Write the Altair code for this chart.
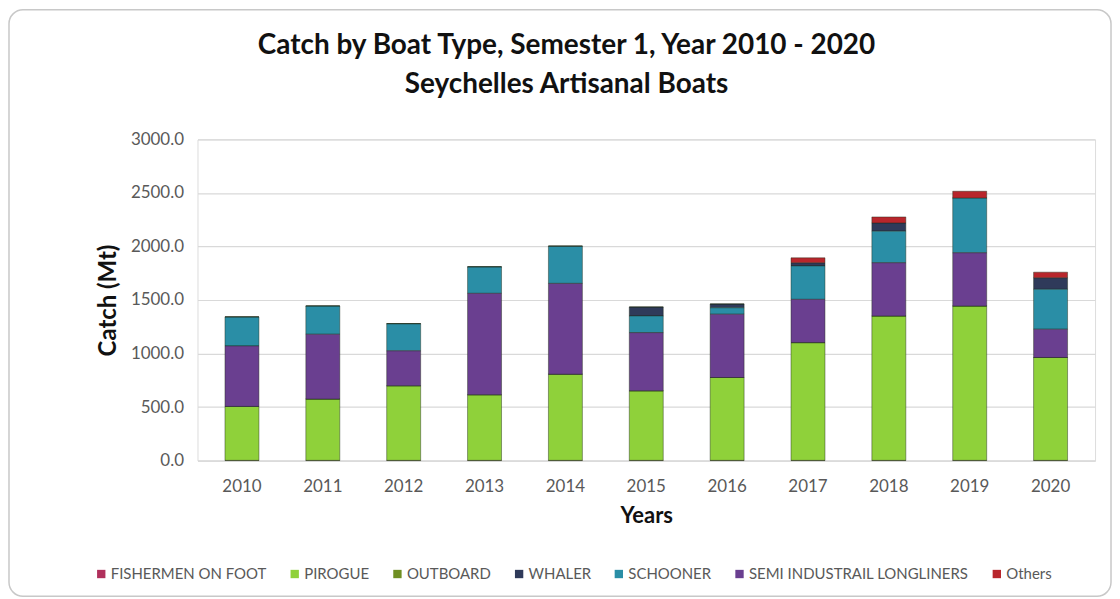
import altair as alt
import pandas as pd

years = ["2010", "2011", "2012", "2013", "2014", "2015", "2016", "2017", "2018", "2019", "2020"]
boat_types = ["FISHERMEN ON FOOT", "PIROGUE", "OUTBOARD", "WHALER", "SCHOONER",
              "SEMI INDUSTRAIL LONGLINERS", "Others"]
colors = ["#b0305c", "#8fd13a", "#6f8f22", "#2f3a5a", "#2a8ea6", "#6a3f90", "#b8262c"]
# visual stacking order, bottom to top
stack_rank = [0, 1, 2, 5, 4, 3, 6]

fishermen_on_foot = [2, 2, 2, 2, 2, 2, 2, 2, 2, 2, 2]
pirogue = [504, 573, 697, 613, 805, 650, 774, 1100, 1349, 1442, 961]
outboard = [0, 0, 0, 0, 0, 0, 0, 0, 0, 0, 0]
whaler = [0, 0, 0, 0, 0, 84, 36, 30, 77, 0, 108]
schooner = [271, 264, 254, 248, 348, 156, 60, 312, 295, 512, 373]
semi_industrial = [565, 605, 326, 947, 848, 543, 591, 404, 497, 497, 264]
others = [0, 0, 0, 0, 0, 0, 0, 46, 56, 63, 52]

series = [fishermen_on_foot, pirogue, outboard, whaler, schooner, semi_industrial, others]

rows = []
for t, vals, rank in zip(boat_types, series, stack_rank):
    for y, v in zip(years, vals):
        rows.append({"Year": y, "Type": t, "Catch": v, "rank": rank})
df = pd.DataFrame(rows)

FONT = "Lato"

frame = alt.Chart(pd.DataFrame({"a": [0]})).mark_rect(
    fill="transparent", stroke="#c8c8c8", strokeWidth=1.5, cornerRadius=14
).encode(
    x=alt.value(-189), x2=alt.value(916), y=alt.value(-130), y2=alt.value(458)
)

bars = alt.Chart(df).mark_bar(stroke="#1e2a18", strokeWidth=0.8, strokeOpacity=0.55).encode(
    x=alt.X("Year:N", sort=years,
            scale=alt.Scale(paddingInner=0.58, paddingOuter=0.34),
            axis=alt.Axis(title="Years", labelAngle=0, labelFontSize=17, labelColor="#595959",
                          labelFont=FONT, labelPadding=18, ticks=False, domain=True,
                          domainColor="#d9d9d9", titleFont=FONT, titleFontSize=22,
                          titleFontWeight="bold", titleColor="#111111", titlePadding=11)),
    y=alt.Y("Catch:Q", stack="zero",
            scale=alt.Scale(domain=[0, 3000], nice=False),
            axis=alt.Axis(title="Catch (Mt)", values=[0, 500, 1000, 1500, 2000, 2500, 3000],
                          format=".1f", labelFontSize=17, labelColor="#595959", labelFont=FONT,
                          labelPadding=14, ticks=False, domain=False, grid=True,
                          gridColor="#d9d9d9", gridWidth=1.2, titleFont=FONT, titleFontSize=24,
                          titleFontWeight="bold", titleColor="#111111", titlePadding=10)),
    color=alt.Color("Type:N",
                    scale=alt.Scale(domain=boat_types, range=colors),
                    legend=alt.Legend(title=None, orient="none", direction="horizontal",
                                      columns=7, legendX=-104, legendY=428,
                                      symbolType="square", symbolSize=70, symbolStrokeWidth=0,
                                      labelFont=FONT, labelFontSize=15, labelColor="#595959",
                                      labelOffset=2, columnPadding=20, labelLimit=400)),
    order=alt.Order("rank:Q", sort="ascending"),
)

chart = alt.layer(frame, bars).properties(
    width=900, height=322, padding=0,
    title=alt.TitleParams(
        text=["Catch by Boat Type, Semester 1, Year 2010 - 2020", "Seychelles Artisanal Boats"],
        font=FONT, fontSize=28, fontWeight="bold", color="#111111",
        anchor="middle", frame="group", dx=-80, lineHeight=39, offset=-90,
    ),
).configure_view(stroke=None).configure(background="white")

chart.save("out.html", embed_options={"renderer": "svg", "actions": False})
